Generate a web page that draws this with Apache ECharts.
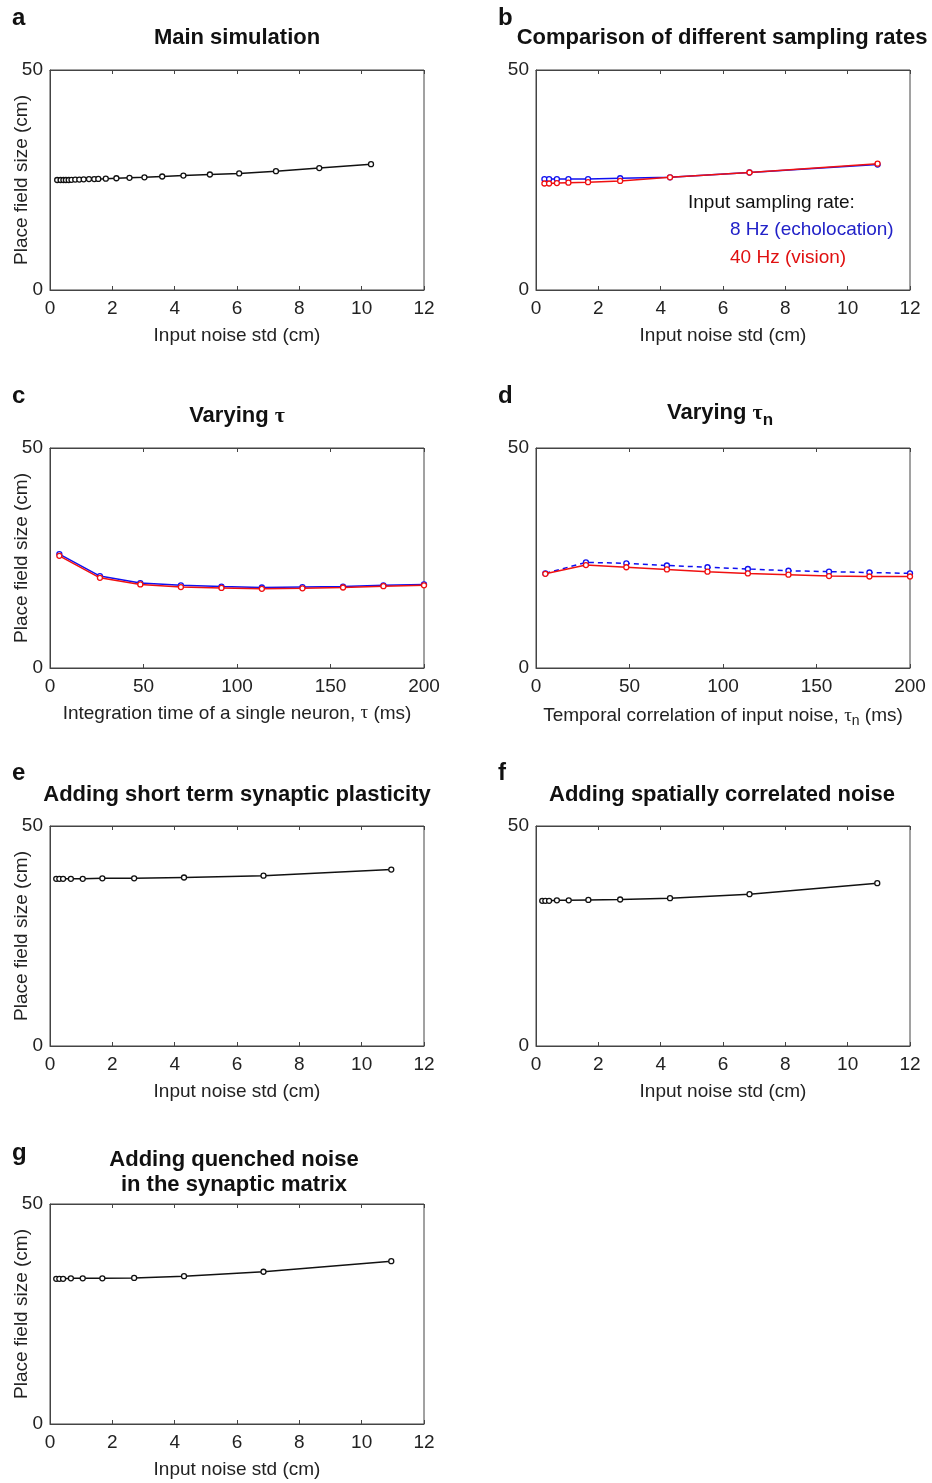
<!DOCTYPE html>
<html>
<head>
<meta charset="utf-8">
<script src="https://cdn.jsdelivr.net/npm/echarts@6/dist/echarts.min.js"></script>
<style>
html,body{margin:0;padding:0;background:#fff;}
#chart{width:932px;height:1483px;}
</style>
</head>
<body>
<div id="chart"></div>
<script>
// ---------------- data ----------------
const noiseTicks = [0, 2, 4, 6, 8, 10, 12];
const tauTicks = [0, 50, 100, 150, 200];
const yTicks = [0, 50];

const aX = [0.23,0.34,0.43,0.51,0.60,0.69,0.81,0.94,1.08,1.25,1.42,1.55,1.79,2.13,2.55,3.03,3.60,4.28,5.13,6.07,7.25,8.64,10.30];
const aY = [25.0,25.0,25.0,25.0,25.0,25.05,25.1,25.1,25.15,25.2,25.2,25.25,25.3,25.4,25.5,25.6,25.8,26.0,26.25,26.5,27.0,27.7,28.6];

const bX = [0.27,0.42,0.67,1.04,1.67,2.7,4.3,6.85,10.96];
const bBlue = [25.2,25.2,25.2,25.2,25.2,25.4,25.6,26.7,28.5];
const bRed = [24.2,24.2,24.3,24.4,24.5,24.8,25.6,26.7,28.7];

const cX = [5,26.7,48.3,70,91.7,113.3,135,156.7,178.3,200];
const cBlue = [25.9,20.9,19.3,18.8,18.5,18.3,18.4,18.5,18.8,19.0];
const cRed = [25.5,20.5,19.0,18.4,18.2,18.0,18.1,18.3,18.6,18.8];

const dX = [5,26.7,48.3,70,91.7,113.3,135,156.7,178.3,200];
const dBlue = [21.5,24.0,23.8,23.3,22.9,22.5,22.1,21.9,21.7,21.5];
const dRed = [21.4,23.4,22.9,22.4,21.9,21.5,21.2,20.9,20.8,20.8];

const efgX = [0.2,0.3,0.42,0.67,1.05,1.68,2.7,4.3,6.85,10.95];
const eY = [38.0,38.0,38.0,38.0,38.0,38.1,38.1,38.3,38.7,40.1];
const fY = [33.0,33.0,33.0,33.1,33.1,33.2,33.3,33.6,34.5,37.0];
const gY = [33.0,33.0,33.0,33.1,33.1,33.1,33.2,33.6,34.6,37.0];

// ---------------- layout ----------------
const FONT = '"Liberation Sans", Arial, sans-serif';
const SERIF = '"Liberation Serif", "DejaVu Serif", serif';
const BLUE = '#1010f0', RED = '#f01010', BLACK = '#111';

const panels = [
  {left:50,  top:70,   xmax:12,  xint:2,  xname:'Input noise std (cm)', yname:true},
  {left:536, top:70,   xmax:12,  xint:2,  xname:'Input noise std (cm)', yname:false},
  {left:50,  top:448,  xmax:200, xint:50, xname:'Integration time of a single neuron, {t|τ} (ms)', yname:true},
  {left:536, top:448,  xmax:200, xint:50, xname:'Temporal correlation of input noise, {t|τ}{s|n} (ms)', yname:false},
  {left:50,  top:826,  xmax:12,  xint:2,  xname:'Input noise std (cm)', yname:true},
  {left:536, top:826,  xmax:12,  xint:2,  xname:'Input noise std (cm)', yname:false},
  {left:50,  top:1204, xmax:12,  xint:2,  xname:'Input noise std (cm)', yname:true}
];

const grids = [], xAxes = [], yAxes = [], series = [];
panels.forEach((p, i) => {
  grids.push({left:p.left, top:p.top, width:374, height:220, show:true, borderColor:'#444', borderWidth:1,
    backgroundColor:'#fff', containLabel:false, outerBoundsMode:'none'});
  xAxes.push({
    type:'value', gridIndex:i, min:0, max:p.xmax, interval:p.xint, position:'bottom',
    axisLine:{show:true, onZero:false, lineStyle:{color:'#444', width:1}},
    axisTick:{show:true, inside:true, length:4, lineStyle:{color:'#444'}},
    splitLine:{show:false},
    axisLabel:{fontFamily:FONT, fontSize:19, color:'#222', margin:9},
    name:p.xname, nameLocation:'middle', nameGap:36, nameMoveOverlap:false,
    nameTextStyle:{fontFamily:FONT, fontSize:19, color:'#222',
      rich:{t:{fontFamily:SERIF, fontSize:19, color:'#222'}, s:{fontFamily:FONT, fontSize:14, color:'#222', padding:[10,0,0,0]}}}
  });
  xAxes.push({
    type:'value', gridIndex:i, min:0, max:p.xmax, interval:p.xint, position:'top',
    axisLine:{show:true, onZero:false, lineStyle:{color:'#444', width:1}},
    axisTick:{show:true, inside:true, length:4, lineStyle:{color:'#444'}},
    splitLine:{show:false}, axisLabel:{show:false}
  });
  yAxes.push({
    type:'value', gridIndex:i, min:0, max:50, interval:50,
    axisLine:{show:true, lineStyle:{color:'#444', width:1}},
    axisTick:{show:false}, splitLine:{show:false},
    axisLabel:{fontFamily:FONT, fontSize:19, color:'#222', margin:7},
    name:p.yname ? 'Place field size (cm)' : '', nameLocation:'middle', nameGap:19, nameMoveOverlap:false,
    nameTextStyle:{fontFamily:FONT, fontSize:19, color:'#222'}
  });
});

function zip(xs, ys){ return xs.map((x, k) => [x, ys[k]]); }
function line(i, xs, ys, color, dashed, z){
  series.push({
    type:'line', xAxisIndex:i*2, yAxisIndex:i, data:zip(xs, ys),
    symbol:'circle', symbolSize:5, showSymbol:true, z:z||2,
    lineStyle:{color:color, width:1.5, type:dashed ? [5,4] : 'solid'},
    itemStyle:{color:'#fff', borderColor:color, borderWidth:1.3},
    emphasis:{disabled:true}, animation:false
  });
}
line(0, aX, aY, BLACK);
line(1, bX, bBlue, BLUE, false, 2);
line(1, bX, bRed, RED, false, 3);
line(2, cX, cBlue, BLUE, false, 2);
line(2, cX, cRed, RED, false, 3);
line(3, dX, dBlue, BLUE, true, 2);
line(3, dX, dRed, RED, false, 3);
line(4, efgX, eY, BLACK);
line(5, efgX, fY, BLACK);
line(6, efgX, gY, BLACK);

// ---------------- texts ----------------
const letters = [['a',12,18],['b',498,18],['c',12,396],['d',498,396],['e',12,773],['f',498,773],['g',12,1153]];
const titles = [
  ['Main simulation',237,38],
  ['Comparison of different sampling rates',722,38],
  ['Adding short term synaptic plasticity',237,795],
  ['Adding spatially correlated noise',722,795],
  ['Adding quenched noise',234,1160],
  ['in the synaptic matrix',234,1185]
];
const graphics = [];
letters.forEach(l => graphics.push({type:'text', x:l[1], y:l[2], style:{text:l[0], font:'bold 24px ' + FONT, fill:'#111', textVerticalAlign:'middle'}}));
titles.forEach(t => graphics.push({type:'text', x:t[1], y:t[2], style:{text:t[0], font:'bold 22px ' + FONT, fill:'#111', textAlign:'center', textVerticalAlign:'middle'}}));
graphics.push({type:'text', x:237, y:416, style:{text:'{a|Varying }{t|τ}', textAlign:'center', textVerticalAlign:'middle',
  rich:{a:{fontFamily:FONT, fontWeight:'bold', fontSize:22, fill:'#111'}, t:{fontFamily:SERIF, fontWeight:'bold', fontSize:22, fill:'#111'}}}});
graphics.push({type:'text', x:720, y:413, style:{text:'{a|Varying }{t|τ}{s|n}', textAlign:'center', textVerticalAlign:'middle',
  rich:{a:{fontFamily:FONT, fontWeight:'bold', fontSize:22, fill:'#111'}, t:{fontFamily:SERIF, fontWeight:'bold', fontSize:22, fill:'#111'}, s:{fontFamily:FONT, fontWeight:'bold', fontSize:17, fill:'#111', padding:[14,0,0,0]}}}});
graphics.push({type:'text', x:688, y:203, style:{text:'Input sampling rate:', font:'19px ' + FONT, fill:'#111', textVerticalAlign:'middle'}});
graphics.push({type:'text', x:730, y:230, style:{text:'8 Hz (echolocation)', font:'19px ' + FONT, fill:'#2222c8', textVerticalAlign:'middle'}});
graphics.push({type:'text', x:730, y:258, style:{text:'40 Hz (vision)', font:'19px ' + FONT, fill:'#e01010', textVerticalAlign:'middle'}});

const chart = echarts.init(document.getElementById('chart'));
chart.setOption({
  backgroundColor:'#fff', animation:false,
  grid:grids, xAxis:xAxes, yAxis:yAxes, series:series, graphic:graphics
});
</script>
</body>
</html>
